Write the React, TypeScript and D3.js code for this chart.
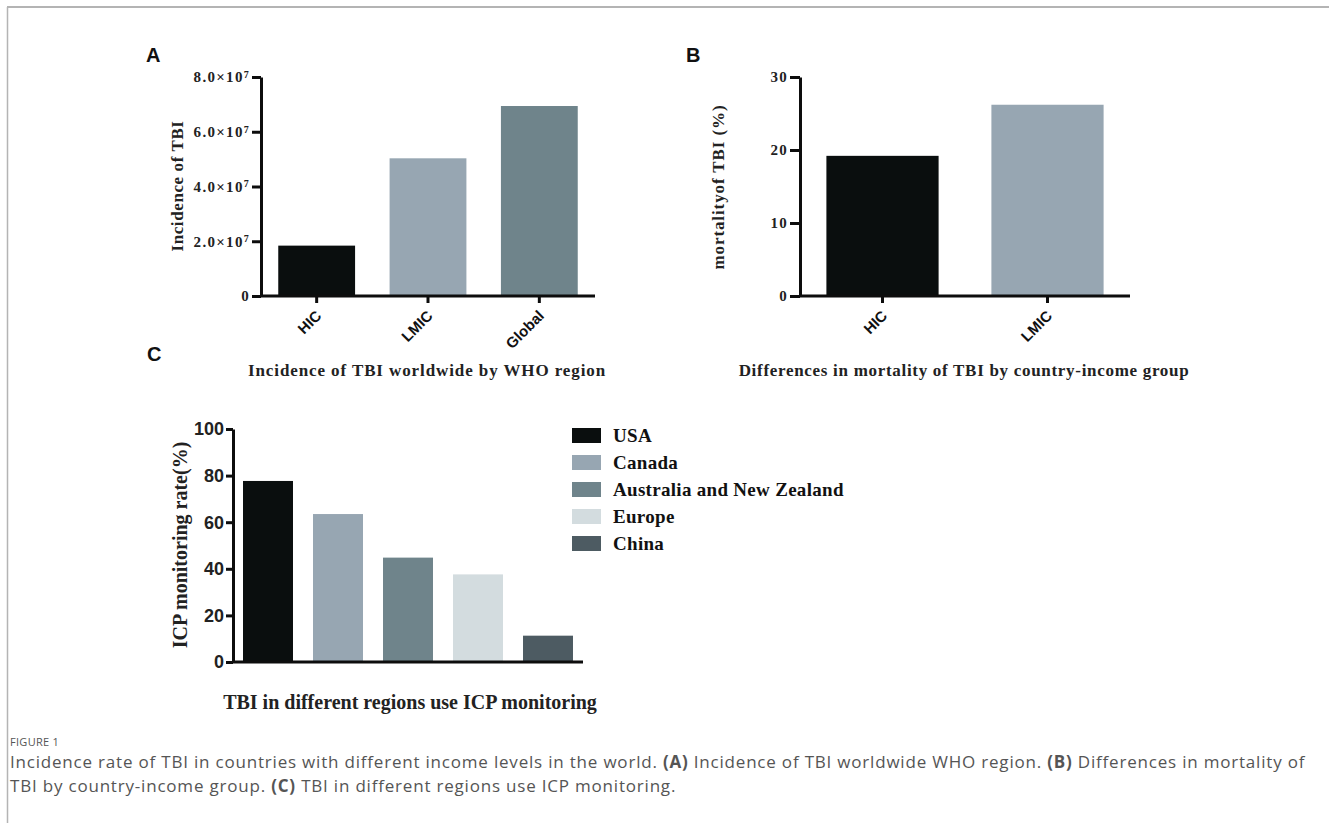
import React, { useEffect, useRef } from "react";
import * as d3 from "d3";

// panel A: incidence of TBI by WHO region
const regionsA = ["HIC", "LMIC", "Global"];
const incidenceA = [1.84e7, 5.03e7, 6.94e7];
const ticksA = [0, 2e7, 4e7, 6e7, 8e7];

// panel B: mortality by country-income group
const groupsB = ["HIC", "LMIC"];
const mortalityB = [19.2, 26.2];
const ticksB = [0, 10, 20, 30];

// panel C: ICP monitoring rate by region
const regionsC = ["USA", "Canada", "Australia and New Zealand", "Europe", "China"];
const icpRateC = [77.7, 63.5, 44.8, 37.6, 11.3];
const ticksC = [0, 20, 40, 60, 80, 100];

const colorsA = ["#0a0e0e", "#97a6b2", "#6f848b"];
const colorsB = ["#0a0e0e", "#97a6b2"];
const colorsC = ["#0a0e0e", "#97a6b2", "#6f848b", "#d3dcdf", "#4d5b62"];

const SERIF = "'Liberation Serif', 'Times New Roman', serif";
const SANS = "'Liberation Sans', Arial, sans-serif";

const App: React.FC = () => {
  const svgRef = useRef<SVGSVGElement | null>(null);

  useEffect(() => {
    const width = 1329;
    const height = 823;
    const svg = d3.select(svgRef.current).attr("width", width).attr("height", height);
    svg.selectAll("*").remove();

    // frame
    svg.append("line").attr("x1", 7).attr("x2", width).attr("y1", 7).attr("y2", 7)
      .attr("stroke", "#b4b4b4").attr("stroke-width", 2);
    svg.append("line").attr("x1", 7.5).attr("x2", 7.5).attr("y1", 7).attr("y2", height)
      .attr("stroke", "#b4b4b4").attr("stroke-width", 1.5);

    // panel letters
    const letters: [string, number, number][] = [["A", 146, 62], ["B", 686, 62], ["C", 147, 361]];
    letters.forEach(([t, lx, ly]) => {
      svg.append("text").attr("x", lx).attr("y", ly).text(t)
        .attr("font-family", SANS).attr("font-weight", "bold").attr("font-size", 20).attr("fill", "#111");
    });

    // generic bar panel
    function panel(opts: {
      cats: string[];
      vals: number[];
      colors: string[];
      ticks: number[];
      xRange: [number, number];
      yRange: [number, number];
      pad: number;
      yMax: number;
      tickLen: number;
      tickFmt: (v: number, sel: d3.Selection<SVGTextElement, unknown, null, undefined>) => void;
      tickFont: string;
      tickSize: number;
      tickSpacing: number;
      xTicks: boolean;
      rotLabels: boolean;
    }) {
      const x = d3.scaleBand<string>()
        .domain(opts.cats)
        .range(opts.xRange)
        .paddingInner(opts.pad)
        .paddingOuter(opts.pad / 2);
      const y = d3.scaleLinear().domain([0, opts.yMax]).range(opts.yRange);
      const g = svg.append("g");

      g.selectAll(".bar")
        .data(opts.vals)
        .enter()
        .append("rect")
        .attr("x", (_, i) => x(opts.cats[i]) as number)
        .attr("y", (d) => y(d))
        .attr("width", x.bandwidth())
        .attr("height", (d) => y(0) - y(d))
        .attr("fill", (_, i) => opts.colors[i]);

      // y axis
      const gy = g.append("g")
        .attr("transform", `translate(${opts.xRange[0]},0)`)
        .call(d3.axisLeft(y).tickValues(opts.ticks).tickSize(opts.tickLen).tickSizeOuter(0).tickFormat(() => ""));
      gy.selectAll("path, line").attr("stroke", "#0d0d0d").attr("stroke-width", 3);
      gy.selectAll(".tick text").remove();
      opts.ticks.forEach((v) => {
        const t = g.append("text")
          .attr("x", opts.xRange[0] - opts.tickLen - 2)
          .attr("y", y(v))
          .attr("dy", "0.35em")
          .attr("text-anchor", "end")
          .attr("font-family", opts.tickFont)
          .attr("font-weight", "bold")
          .attr("font-size", opts.tickSize)
          .attr("letter-spacing", opts.tickSpacing)
          .attr("fill", "#222");
        opts.tickFmt(v, t as any);
      });

      // x axis
      const gx = g.append("g")
        .attr("transform", `translate(0,${opts.yRange[0]})`)
        .call(d3.axisBottom(x).tickSize(opts.xTicks ? 7 : 0).tickSizeOuter(0));
      gx.selectAll("path, line").attr("stroke", "#0d0d0d").attr("stroke-width", 3);
      gx.select(".domain").attr("d", `M${opts.xRange[0] - 1},0H${opts.xRange[1]}`);
      if (opts.rotLabels) {
        gx.selectAll(".tick text")
          .attr("x", 0).attr("y", 0).attr("dy", "0.35em")
          .attr("transform", "translate(2,17) rotate(-45)")
          .attr("text-anchor", "end")
          .attr("font-family", SANS)
          .attr("font-weight", "bold")
          .attr("font-size", 15)
          .attr("fill", "#111");
      } else {
        gx.selectAll(".tick text").remove();
      }
      return { x, y };
    }

    const sciFmt = (v: number, t: d3.Selection<SVGTextElement, unknown, null, undefined>) => {
      if (v === 0) { t.text("0"); return; }
      t.append("tspan").text(`${(v / 1e7).toFixed(1)}\u00d710`);
      t.append("tspan").attr("dy", "-0.45em").attr("font-size", 10).text("7");
    };

    panel({
      cats: regionsA, vals: incidenceA, colors: colorsA, ticks: ticksA,
      xRange: [261, 595], yRange: [296, 77], pad: 0.31, yMax: 8e7, tickLen: 9,
      tickFmt: sciFmt, tickFont: SERIF, tickSize: 15, tickSpacing: 1.3, xTicks: true, rotLabels: true,
    });
    panel({
      cats: groupsB, vals: mortalityB, colors: colorsB, ticks: ticksB,
      xRange: [800, 1130], yRange: [296, 77], pad: 0.32, yMax: 30, tickLen: 10,
      tickFmt: (v, t) => { t.text(String(v)); }, tickFont: SERIF, tickSize: 15, tickSpacing: 1.2,
      xTicks: true, rotLabels: true,
    });
    panel({
      cats: regionsC, vals: icpRateC, colors: colorsC, ticks: ticksC,
      xRange: [233, 583], yRange: [662, 429], pad: 0.286, yMax: 100, tickLen: 7,
      tickFmt: (v, t) => { t.text(String(v)); }, tickFont: SANS, tickSize: 18, tickSpacing: 0,
      xTicks: false, rotLabels: false,
    });

    // axis titles
    const title = (txt: string, tx: number, ty: number, size: number, spacing: number, rot: boolean) => {
      svg.append("text")
        .attr("transform", `translate(${tx},${ty})${rot ? " rotate(-90)" : ""}`)
        .attr("text-anchor", "middle")
        .attr("dy", "0.35em")
        .attr("font-family", SERIF)
        .attr("font-weight", "bold")
        .attr("font-size", size)
        .attr("letter-spacing", spacing)
        .attr("fill", "#222")
        .text(txt);
    };
    title("Incidence of TBI", 177, 186, 17, 0.6, true);
    title("mortalityof TBI (%)", 718, 187, 17, 0.9, true);
    title("ICP monitoring rate(%)", 180, 545, 20, 0, true);
    title("Incidence of TBI worldwide by WHO region", 427, 370, 17, 0.9, false);
    title("Differences in mortality of TBI by country-income group", 964, 370, 17, 0.7, false);
    title("TBI in different regions use ICP monitoring", 410, 702, 20, 0, false);

    // legend for C
    const legend = svg.append("g").attr("transform", "translate(572,428)");
    regionsC.forEach((name, i) => {
      legend.append("rect").attr("x", 0).attr("y", i * 27).attr("width", 29).attr("height", 15)
        .attr("fill", colorsC[i]);
      legend.append("text").attr("x", 41).attr("y", i * 27 + 7.5).attr("dy", "0.35em")
        .attr("font-family", SERIF).attr("font-weight", "bold").attr("font-size", 19)
        .attr("letter-spacing", 0.3).attr("fill", "#111").text(name);
    });

    // caption
    const cap = svg.append("g").attr("font-family", "'Open Sans', sans-serif").attr("fill", "#555");
    cap.append("text").attr("x", 10).attr("y", 746).attr("font-size", 11).attr("letter-spacing", 0.3).text("FIGURE 1");
    const lines: [string, boolean][][] = [
      [
        ["Incidence rate of TBI in countries with different income levels in the world. ", false],
        ["(A)", true],
        [" Incidence of TBI worldwide WHO region. ", false],
        ["(B)", true],
        [" Differences in mortality of", false],
      ],
      [
        ["TBI by country-income group. ", false],
        ["(C)", true],
        [" TBI in different regions use ICP monitoring.", false],
      ],
    ];
    lines.forEach((segs, li) => {
      const t = cap.append("text").attr("x", 10).attr("y", 768 + li * 24)
        .attr("font-size", 17).attr("letter-spacing", 0.8);
      segs.forEach(([s, b]) => {
        t.append("tspan").attr("font-weight", b ? "bold" : "normal").text(s);
      });
    });
  }, []);

  return (
    <svg ref={svgRef} style={{ position: "absolute", left: 0, top: 0, background: "#fff" }}></svg>
  );
};

export default App;
